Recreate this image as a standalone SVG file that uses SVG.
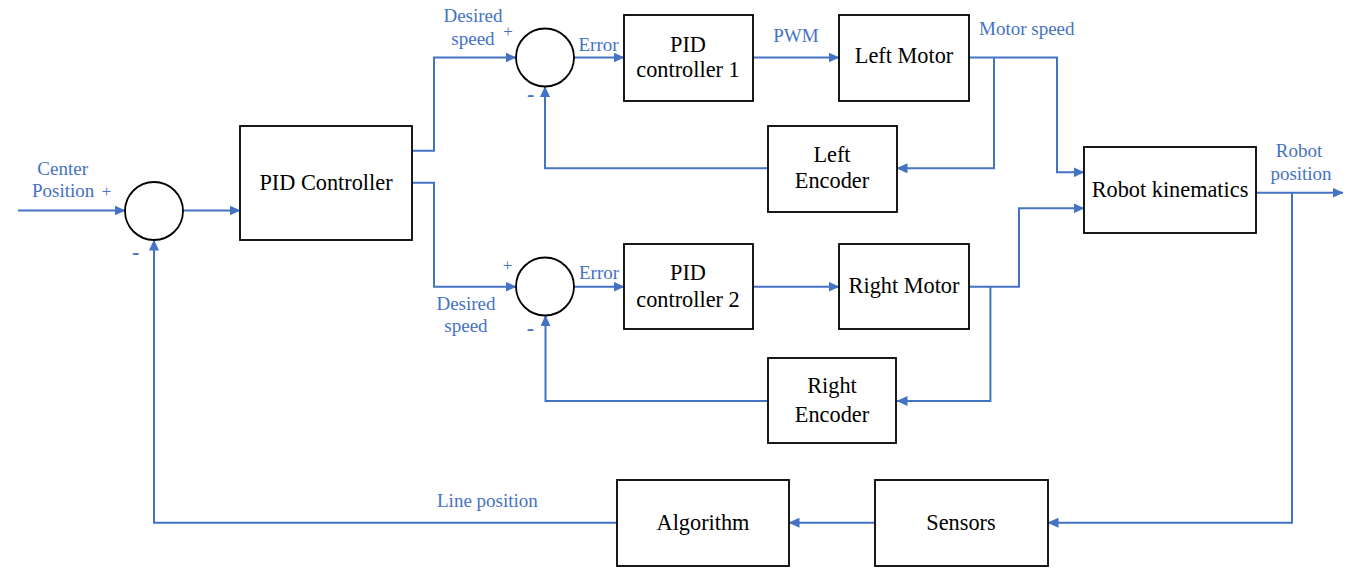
<svg xmlns="http://www.w3.org/2000/svg" width="1352" height="578" viewBox="0 0 1352 578">
<defs>
<marker id="arr" markerUnits="userSpaceOnUse" markerWidth="11" markerHeight="10" refX="10.5" refY="5" orient="auto">
<path d="M0,0 L11,5 L0,10 z" fill="#4472C4"/>
</marker>
<style>
.box{fill:#fff;stroke:#000;stroke-width:1.8}
.sum{fill:#fff;stroke:#000;stroke-width:1.8}
text{font-family:'Liberation Serif','DejaVu Serif',serif}
.t{font-size:22.3px;fill:#000;text-anchor:middle}
.b{font-size:19px;fill:#4472C4}
.c{text-anchor:middle}
.pl{font-size:17px;fill:#4472C4;text-anchor:middle}
.mn{font-size:22px;font-weight:bold;fill:#4472C4;text-anchor:middle}
.ln{fill:none;stroke:#4472C4;stroke-width:2}
.ar{marker-end:url(#arr)}
</style>
</defs>
<rect width="1352" height="578" fill="#fff"/>

<g id="connectors">
<path class="ln ar" d="M18,210.5 H125"/>
<path class="ln ar" d="M183,210.5 H240"/>
<path class="ln ar" d="M412,150.7 H434 V57.5 H516"/>
<path class="ln ar" d="M412,182.7 H434 V286.7 H516"/>
<path class="ln ar" d="M574,57.5 H624"/>
<path class="ln ar" d="M753,57.5 H839"/>
<path class="ln ar" d="M969,57.5 H1057 V172.3 H1084"/>
<path class="ln ar" d="M994,57.5 V168.3 H897"/>
<path class="ln ar" d="M768,168.3 H545 V86.5"/>
<path class="ln ar" d="M574,286.7 H624"/>
<path class="ln ar" d="M753,286.7 H839"/>
<path class="ln ar" d="M969,286.7 H1019 V208.3 H1084"/>
<path class="ln ar" d="M990.4,286.7 V401 H897"/>
<path class="ln ar" d="M768,401 H545.5 V315.5"/>
<path class="ln ar" d="M1256,192.7 H1343"/>
<path class="ln ar" d="M1292,192.7 V522.7 H1048"/>
<path class="ln ar" d="M875,522.7 H789"/>
<path class="ln ar" d="M617,522.7 H154 V240"/>
</g>

<g id="sum1">
<circle class="sum" cx="154" cy="211" r="29"/>
<text class="b c" x="62.7" y="175">Center</text>
<text class="b" x="32" y="197">Position</text>
<text class="pl" x="106.5" y="197">+</text>
<text class="mn" x="135.6" y="259">-</text>
</g>

<g id="pid-main">
<rect class="box" x="240" y="126" width="172" height="114"/>
<text class="t" x="326" y="190">PID Controller</text>
</g>

<g id="sum-top">
<circle class="sum" cx="545" cy="57.5" r="29"/>
<text class="b c" x="473" y="21.7">Desired</text>
<text class="b c" x="473" y="45">speed</text>
<text class="pl" x="508" y="37">+</text>
<text class="mn" x="530.6" y="101">-</text>
<text class="b" x="578.5" y="50.7">Error</text>
</g>

<g id="pid1">
<rect class="box" x="624" y="15" width="129" height="86"/>
<text class="t" x="688" y="51.7">PID</text>
<text class="t" x="688" y="77.3">controller 1</text>
<text class="b" x="773.3" y="41.7">PWM</text>
</g>

<g id="left-motor">
<rect class="box" x="839" y="15" width="130" height="86"/>
<text class="t" x="904" y="63.3">Left Motor</text>
<text class="b" x="979" y="35">Motor speed</text>
</g>

<g id="left-encoder">
<rect class="box" x="768" y="126" width="129" height="86"/>
<text class="t" x="832" y="161.7">Left</text>
<text class="t" x="832" y="188.3">Encoder</text>
</g>

<g id="robot-kinematics">
<rect class="box" x="1084" y="147" width="172" height="86"/>
<text class="t" x="1170" y="196.7">Robot kinematics</text>
<text class="b c" x="1299" y="156.7">Robot</text>
<text class="b c" x="1301" y="180">position</text>
</g>

<g id="sum-bottom">
<circle class="sum" cx="545" cy="286.5" r="29"/>
<text class="pl" x="507.5" y="270.5">+</text>
<text class="b" x="579" y="279">Error</text>
<text class="b c" x="466" y="310">Desired</text>
<text class="b c" x="466" y="331.7">speed</text>
<text class="mn" x="530.5" y="335">-</text>
</g>

<g id="pid2">
<rect class="box" x="624" y="244" width="129" height="85"/>
<text class="t" x="688" y="280">PID</text>
<text class="t" x="688" y="306.7">controller 2</text>
</g>

<g id="right-motor">
<rect class="box" x="839" y="244" width="130" height="85"/>
<text class="t" x="904" y="293.3">Right Motor</text>
</g>

<g id="right-encoder">
<rect class="box" x="768" y="358" width="128" height="85"/>
<text class="t" x="832" y="393.3">Right</text>
<text class="t" x="832" y="421.7">Encoder</text>
</g>

<g id="algorithm">
<rect class="box" x="617" y="480" width="172" height="86"/>
<text class="t" x="703" y="529.5">Algorithm</text>
<text class="b" x="437" y="507.3">Line position</text>
</g>

<g id="sensors">
<rect class="box" x="875" y="480" width="173" height="86"/>
<text class="t" x="961" y="530">Sensors</text>
</g>
</svg>
